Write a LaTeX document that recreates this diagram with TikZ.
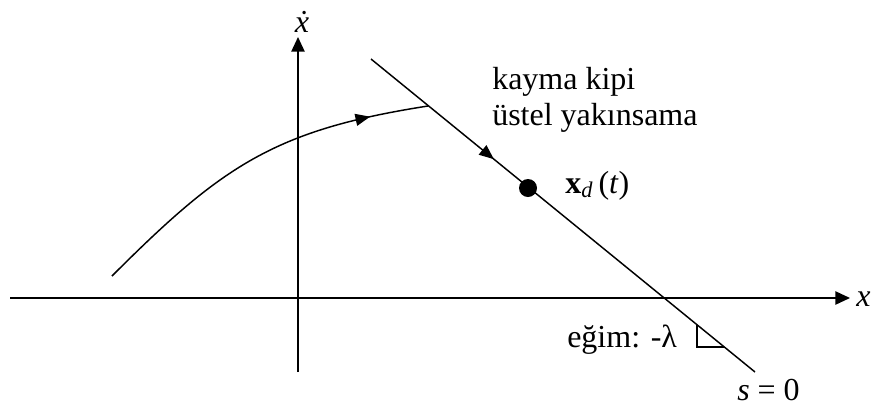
\documentclass[tikz,border=0pt]{standalone}
\usepackage{fontspec}
\setmainfont{Liberation Serif}
\usetikzlibrary{positioning, arrows.meta, decorations.markings}

\begin{document}
\begin{tikzpicture}[x=0.75pt, y=-0.75pt,
    every node/.style={font=\fontsize{24}{27}\selectfont, inner sep=0pt},
    axis/.style={line width=1.1pt, -{Triangle[length=11pt, width=10pt]}},
    curve/.style={line width=1.1pt},
    midarrow/.style={postaction={decorate}, decoration={markings,
        mark=at position #1 with {\arrow{Triangle[length=11pt, width=9pt]}}}}]

  \useasboundingbox (0,0) rectangle (879,415);

  % axes
  \coordinate (xleft) at (10,298);
  \coordinate (xright) at (850,298);
  \coordinate (ybottom) at (298,372);
  \coordinate (ytop) at (298,37);
  \draw[axis] (xleft) -- (xright);
  \draw[axis] (ybottom) -- (ytop);
  \node[anchor=base west] (xlab) at (856,306) {\textit{x}};
  \node[anchor=base] (ylab) at (302,32) {\textit{\.{x}}};

  % sliding surface s = 0
  \coordinate (sstart) at (371,59);
  \coordinate (send) at (755,372);
  \draw[curve, midarrow=0.32] (sstart) -- (send);

  % trajectory reaching the surface
  \coordinate (tstart) at (112,276);
  \coordinate (tend) at (428,106);
  \draw[curve, midarrow=0.84] (tstart) .. controls (222,166) and (274,130) .. (tend);

  % desired state
  \fill (528,188) circle (9) coordinate (xd);
  \node[anchor=base west] (xdlab) at (565,193) {\textbf{x}\textsubscript{\textit{d}}\,(\textit{t})};

  % labels
  \node[anchor=base west] (mode) at (492,89) {kayma kipi};
  \node[anchor=base west] (conv) at (492,125) {üstel yakınsama};
  \node[anchor=base west] (slope) at (567,347) {eğim: -λ};
  \node[anchor=base west] (surf) at (737,400) {\textit{s} = 0};

  % slope marker
  \draw[line width=0.8pt] (697,325) -- (697,347) -- (724,347);
\end{tikzpicture}
\end{document}
